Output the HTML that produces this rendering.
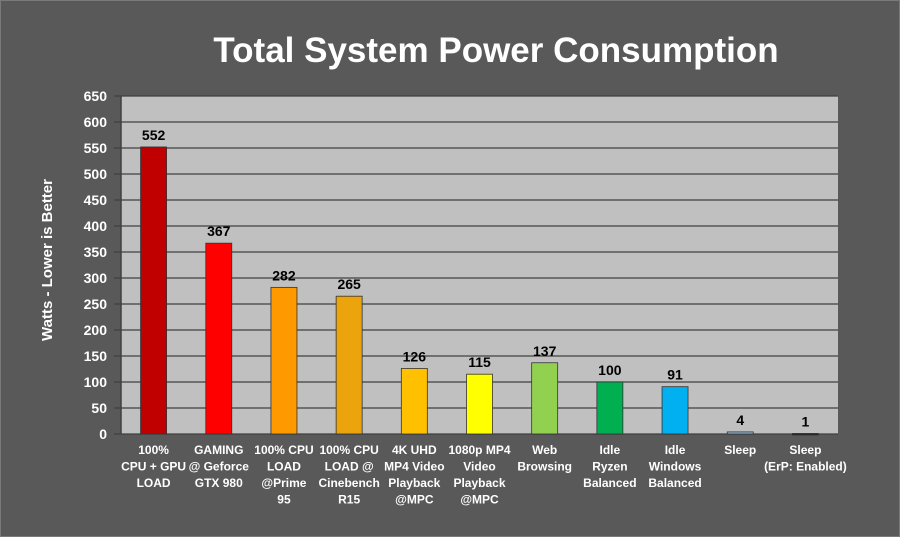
<!DOCTYPE html>
<html><head><meta charset="utf-8"><style>
html,body{margin:0;padding:0;background:#595959}
svg{display:block}
text{font-family:"Liberation Sans",Arial,sans-serif;font-weight:bold}
</style></head><body>
<svg width="900" height="537" viewBox="0 0 900 537" xmlns="http://www.w3.org/2000/svg">
<rect x="0" y="0" width="900" height="537" fill="#595959"/>
<rect x="0.5" y="0.5" width="899" height="536" fill="none" stroke="#7a7a7a" stroke-width="1"/>
<text x="496" y="62" font-size="35" fill="#fff" text-anchor="middle">Total System Power Consumption</text>
<rect x="121" y="96" width="717" height="338" fill="#c0c0c0"/>
<g stroke="#404040" stroke-width="1.2" id="grid"></g>
<g id="ticks" font-size="14" fill="#fff" text-anchor="end"></g>
<line x1="121" y1="96" x2="121" y2="434" stroke="#404040" stroke-width="1.5"/>
<text transform="translate(52,260) rotate(-90)" font-size="15" fill="#fff" text-anchor="middle">Watts - Lower is Better</text>
<g id="bars"></g>
</svg>
<script>
var ns="http://www.w3.org/2000/svg";
function el(p,t,a,txt){var e=document.createElementNS(ns,t);for(var k in a)e.setAttribute(k,a[k]);if(txt!=null)e.textContent=txt;document.getElementById(p).appendChild(e);return e;}
var y0=434,s=338/650;
for(var v=0;v<=650;v+=50){var y=y0-v*s;
el("grid","line",{x1:114,y1:y,x2:838,y2:y});
el("ticks","text",{x:107,y:y+5},v);}
var d=[[552,"#c00000",["100%","CPU + GPU","LOAD"]],[367,"#ff0000",["GAMING","@ Geforce","GTX 980"]],[282,"#ff9900",["100% CPU","LOAD","@Prime","95"]],[265,"#eba40c",["100% CPU","LOAD @","Cinebench","R15"]],[126,"#ffc000",["4K UHD","MP4 Video","Playback","@MPC"]],[115,"#ffff00",["1080p MP4","Video","Playback","@MPC"]],[137,"#92d050",["Web","Browsing"]],[100,"#00b050",["Idle","Ryzen","Balanced"]],[91,"#00b0f0",["Idle","Windows","Balanced"]],[4,"#8fb4d0",["Sleep"]],[1,"#202020",["Sleep","(ErP: Enabled)"]]];
var cw=717/11;
d.forEach(function(b,i){var cx=121+cw*(i+0.5);var h=b[0]*s;
el("bars","rect",{x:cx-13,y:y0-h,width:26,height:Math.max(h,1.5),fill:b[1],stroke:"#333","stroke-width":0.8});
el("bars","text",{x:cx,y:y0-h-7,"font-size":14,fill:"#000","text-anchor":"middle"},b[0]);
b[2].forEach(function(l,j){el("bars","text",{x:cx,y:454+j*16.5,"font-size":12,fill:"#fff","text-anchor":"middle"},l);});
});
</script>
</body></html>
